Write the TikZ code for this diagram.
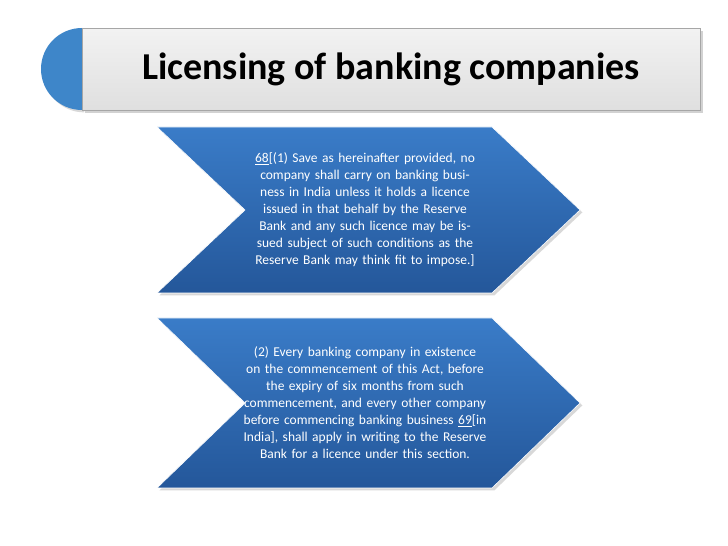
\documentclass[tikz,border=0pt]{standalone}
\usepackage{fontspec}
\setmainfont{Carlito}
\usetikzlibrary{shadows}
\definecolor{bl}{HTML}{3A7CC8}
\definecolor{bld}{HTML}{24579A}
\definecolor{tl}{HTML}{3E86C9}
\tikzset{chev/.style={top color=bl,bottom color=bld,draw=white,line width=0.6pt,drop shadow={opacity=0.3}},
 body/.style={text=white,align=center,font=\fontsize{13.5}{17}\selectfont,text width=250pt}}
\begin{document}
\begin{tikzpicture}[x=1pt,y=1pt]
\useasboundingbox[fill=white] (0,0) rectangle (728,546);
% title
\fill[tl,drop shadow={opacity=0.3}] (82,518) arc[start angle=90,end angle=270,radius=41] -- cycle;
\node[draw=gray!70,top color=gray!10,bottom color=gray!25,minimum width=618pt,minimum height=82pt,anchor=north west,drop shadow={opacity=0.35}] (title) at (82,518) {};
\node[font=\fontsize{38}{44}\selectfont\bfseries] (tt) at (391,477) {Licensing of banking companies};
% chevrons
\draw[chev] (157,419) -- (492,419) -- (580,336) -- (492,253) -- (157,253) -- (245,336) -- cycle;
\node[body] (c1) at (365,336) {\underline{68}[(1) Save as hereinafter provided, no company shall carry on banking business in India unless it holds a licence issued in that behalf by the Reserve Bank and any such licence may be issued subject of such conditions as the Reserve Bank may think fit to impose.]};
\draw[chev] (157,228) -- (492,228) -- (580,143) -- (492,58) -- (157,58) -- (245,143) -- cycle;
\node[body] (c2) at (365,143) {(2) Every banking company in existence on the commencement of this Act, before the expiry of six months from such commencement, and every other company before commencing banking business \underline{69}[in India], shall apply in writing to the Reserve Bank for a licence under this section.};
\end{tikzpicture}
\end{document}
